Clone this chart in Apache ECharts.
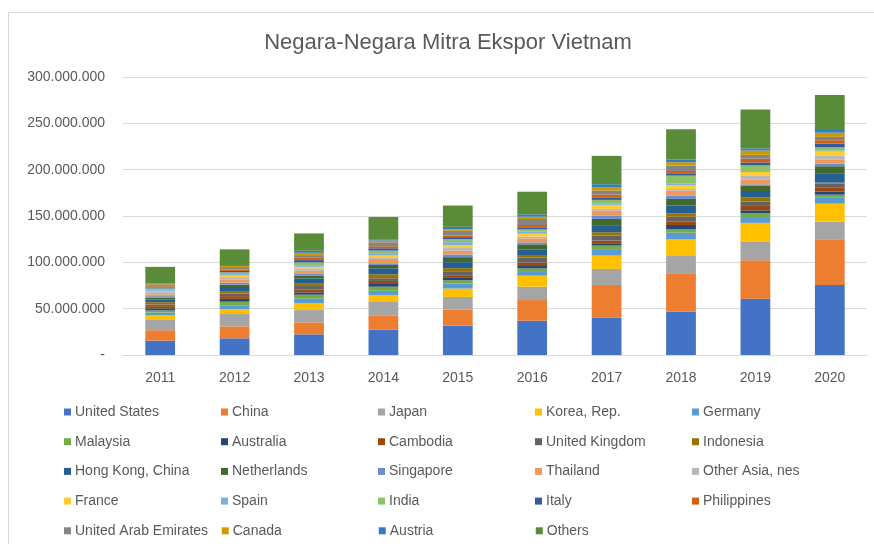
<!DOCTYPE html>
<html>
<head>
<meta charset="utf-8">
<title>Negara-Negara Mitra Ekspor Vietnam</title>
<script src="https://cdn.jsdelivr.net/npm/echarts@6/dist/echarts.min.js"></script>
<style>
	html, body { margin: 0; padding: 0; background: #fff; }
	#container_bar { width: 874px; height: 544px; }
</style>
</head>
<body>
<div id="container_bar"></div>
<script>
// tahun (kategori)
var years = ["2011", "2012", "2013", "2014", "2015", "2016", "2017", "2018", "2019", "2020"];
// nilai ekspor, dalam juta (x 1.000.000 pada sumbu)
var unitedStates = [15.5, 18.0, 22.3, 27.3, 31.7, 37.0, 40.3, 46.7, 60.6, 75.5];
var china        = [11.2, 12.9, 12.9, 15.5, 17.3, 22.3, 35.3, 41.4, 41.7, 49.5];
var japan        = [11.1, 13.3, 13.3, 14.4, 13.7, 14.4, 17.3, 18.7, 20.3, 18.9];
var korea        = [5.0, 5.4, 7.6, 7.6, 9.0, 11.9, 14.4, 18.0, 20.0, 19.4];
var germany      = [3.0, 3.6, 4.7, 4.5, 5.4, 5.0, 6.1, 7.2, 6.3, 7.0];
var malaysia     = [2.3, 4.3, 4.3, 4.4, 3.6, 2.9, 4.7, 3.6, 4.0, 2.7];
var australia    = [2.2, 3.1, 2.5, 2.9, 2.5, 2.5, 2.5, 4.7, 3.2, 3.4];
var cambodia     = [2.4, 2.9, 3.2, 3.3, 2.9, 3.6, 2.9, 3.6, 4.8, 4.6];
var unitedKingdom = [1.9, 2.8, 3.6, 2.9, 3.6, 5.4, 5.4, 5.4, 4.8, 3.8];
var indonesia    = [2.4, 2.7, 3.2, 4.3, 4.0, 2.9, 3.6, 3.6, 4.3, 1.2];
var hongKong     = [3.0, 4.4, 5.0, 6.5, 6.5, 6.1, 7.6, 8.3, 7.0, 10.2];
var netherlands  = [1.9, 2.5, 2.9, 3.6, 5.4, 5.4, 6.8, 7.2, 5.8, 7.5];
var singapore    = [1.6, 2.2, 2.5, 1.8, 2.9, 2.2, 3.6, 3.6, 1.4, 2.8];
var thailand     = [2.0, 3.3, 2.9, 4.7, 4.0, 4.3, 5.4, 5.4, 5.2, 4.6];
var otherAsia    = [2.4, 2.6, 2.5, 1.8, 2.9, 1.8, 1.8, 1.8, 4.5, 4.3];
var france       = [1.3, 1.7, 1.8, 1.8, 3.2, 3.2, 4.3, 4.3, 3.6, 4.1];
var spain        = [1.2, 1.6, 1.8, 1.8, 3.2, 2.2, 1.8, 1.8, 1.0, 1.0];
var india        = [1.4, 1.9, 2.9, 3.6, 3.2, 2.5, 3.6, 8.3, 6.1, 3.6];
var italy        = [1.1, 1.5, 2.5, 2.5, 2.2, 2.2, 2.2, 2.5, 3.2, 4.1];
var philippines  = [1.3, 1.7, 2.5, 2.2, 1.8, 2.5, 3.6, 2.5, 4.1, 3.6];
var uae          = [1.2, 2.5, 2.9, 4.3, 5.0, 6.5, 4.3, 5.8, 4.1, 3.6];
var canada       = [0.9, 1.1, 2.5, 1.8, 1.8, 2.5, 3.6, 3.6, 4.7, 4.5];
var austria      = [0.9, 1.0, 2.2, 1.4, 2.5, 2.5, 3.2, 2.9, 2.3, 2.9];
var others       = [17.9, 17.0, 18.7, 24.0, 23.0, 24.4, 30.6, 32.7, 41.9, 37.8];
// nama negara, urutan tumpukan dari bawah
var countries = ["United States", "China", "Japan", "Korea, Rep.", "Germany",
	"Malaysia", "Australia", "Cambodia", "United Kingdom", "Indonesia",
	"Hong Kong, China", "Netherlands", "Singapore", "Thailand", "Other Asia, nes",
	"France", "Spain", "India", "Italy", "Philippines",
	"United Arab Emirates", "Canada", "Austria", "Others"];
var values = [unitedStates, china, japan, korea, germany, malaysia, australia, cambodia,
	unitedKingdom, indonesia, hongKong, netherlands, singapore, thailand, otherAsia,
	france, spain, india, italy, philippines, uae, canada, austria, others];
// warna gaya Office
var colors = ["#4472C4", "#ED7D31", "#A5A5A5", "#FFC000", "#5B9BD5", "#70AD47",
	"#264478", "#9E480E", "#636363", "#997300", "#255E91", "#43682B",
	"#698ED0", "#F1975A", "#B7B7B7", "#FFCD33", "#7CAFDD", "#8CC168",
	"#335AA1", "#D26012", "#848484", "#CC9A00", "#327DC2", "#5A8B39"];
// tick sumbu y
var yTicks = [0, 50, 100, 150, 200, 250, 300];

var fontName = "'Liberation Sans', Arial, sans-serif";

initChart_bar("container_bar");

/**
 * format angka pakai titik ribuan
 */
function fmt(v) {
	if (v == 0) {
		return "-";
	}
	return String(Math.round(v * 1000000)).replace(/\B(?=(\d{3})+(?!\d))/g, ".");
}

/**
 * grafik batang bertumpuk
 * @param selector
 */
function initChart_bar(selector) {
	var dom = document.getElementById(selector);
	var myChart = echarts.init(dom, null, {renderer: 'canvas'});
	var arr = [];
	for (var i = 0; i < countries.length; i++) {
		arr.push({
			name: countries[i],
			type: 'bar',
			stack: 'total',
			barWidth: '40%',
			itemStyle: {color: colors[i]},
			emphasis: {disabled: true},
			data: values[i]
		});
	}
	var option = {
		animation: false,
		textStyle: {fontFamily: fontName},
		title: {
			text: 'Negara-Negara Mitra Ekspor Vietnam',
			left: 443,
			top: 27,
			textAlign: 'center',
			textStyle: {
				fontFamily: fontName,
				fontSize: 22,
				fontWeight: 'normal',
				color: '#595959'
			}
		},
		// bingkai area grafik
		graphic: [{
			type: 'rect',
			shape: {x: 8.5, y: 12.5, width: 900, height: 600},
			style: {fill: null, stroke: '#D9D9D9', lineWidth: 1},
			silent: true
		}],
		legend: {
			left: 64,
			top: 404,
			width: 800,
			padding: 0,
			itemGap: 13.7,
			itemWidth: 7,
			itemHeight: 7,
			icon: 'rect',
			selectedMode: false,
			textStyle: {
				fontFamily: fontName,
				fontSize: 14,
				color: '#595959',
				width: 132.3,
				lineHeight: 16,
				padding: [0, 0, 0, -1]
			},
			data: countries
		},
		grid: {
			left: 123,
			right: 7,
			top: 77,
			bottom: 189
		},
		xAxis: {
			type: 'category',
			data: years,
			axisTick: {show: false},
			axisLine: {lineStyle: {color: '#D9D9D9', width: 1}},
			axisLabel: {
				margin: 16,
				fontSize: 14,
				fontFamily: fontName,
				color: '#595959'
			}
		},
		yAxis: {
			type: 'value',
			min: yTicks[0],
			max: yTicks[yTicks.length - 1],
			interval: yTicks[1] - yTicks[0],
			axisLine: {show: false},
			axisTick: {show: false},
			splitLine: {lineStyle: {color: '#D9D9D9', width: 1}},
			axisLabel: {
				margin: 18,
				fontSize: 14,
				fontFamily: fontName,
				color: '#595959',
				formatter: function (v) {
					return fmt(v);
				}
			}
		},
		series: arr
	};
	myChart.setOption(option, true);
}
</script>
</body>
</html>
